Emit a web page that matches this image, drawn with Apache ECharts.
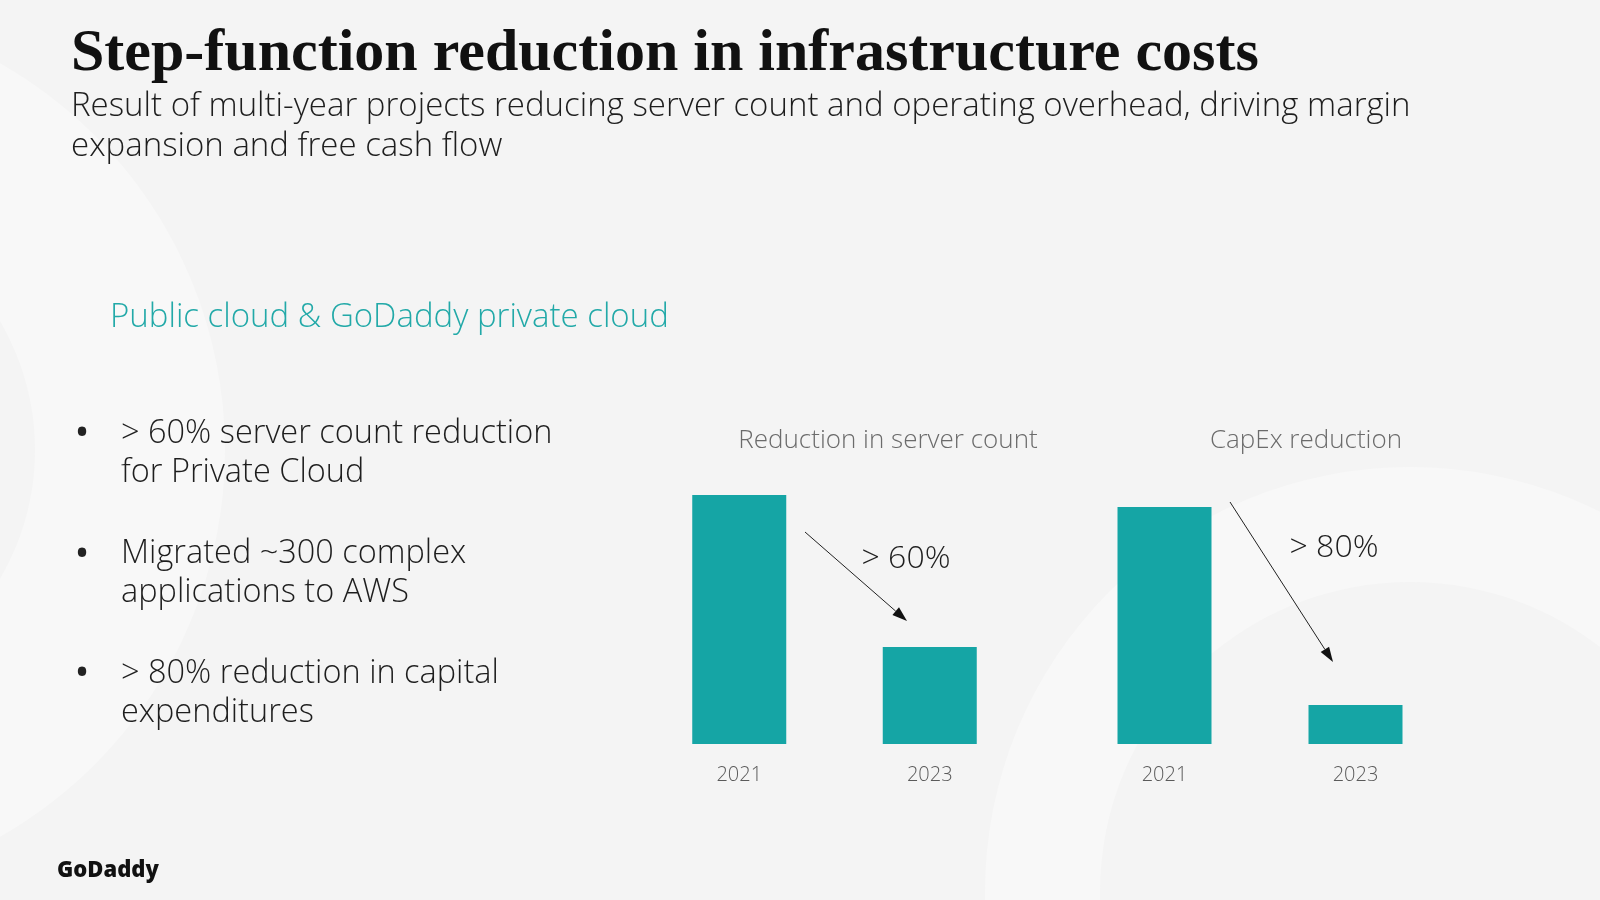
<!DOCTYPE html>
<html>
<head>
<meta charset="utf-8">
<script src="https://cdn.jsdelivr.net/npm/echarts@6/dist/echarts.min.js"></script>
<style>
html, body { margin: 0; padding: 0; background: #f4f4f4; }
#main { width: 1600px; height: 900px; }
</style>
</head>
<body>
<div id="main"></div>
<script>
// data (2021 bar of server count = 100)
const years = ['2021', '2023'];
const serverCount = [100, 39];
const capex = [95.2, 15.7];

const chartTitles = ['Reduction in server count', 'CapEx reduction'];
const changeLabels = ['> 60%', '> 80%'];

const bullets = [
    '> 60% server count reduction\nfor Private Cloud',
    'Migrated ~300 complex\napplications to AWS',
    '> 80% reduction in capital\nexpenditures'
];

const teal = '#15a5a5';
const bodyFont = '"Open Sans", Inter, sans-serif';

var chartDom = document.getElementById('main');
var myChart = echarts.init(chartDom);

// arrow = line + small triangle head
const arrow = (x1, y1, x2, y2) => {
    const ang = Math.atan2(y2 - y1, x2 - x1);
    const len = 15, half = 5;
    const bx = x2 - len * Math.cos(ang), by = y2 - len * Math.sin(ang);
    const px = -Math.sin(ang) * half, py = Math.cos(ang) * half;
    return [
        { type: 'line', shape: { x1: x1, y1: y1, x2: bx, y2: by }, style: { stroke: '#222', lineWidth: 1 } },
        { type: 'polygon', shape: { points: [[x2, y2], [bx + px, by + py], [bx - px, by - py]] }, style: { fill: '#111' } }
    ];
};

const bulletY = [414, 534.5, 654];
const bulletGraphics = [];
bullets.forEach((b, i) => {
    bulletGraphics.push({
        type: 'text', x: 82, y: bulletY[i] + 21,
        style: { text: '•', font: '40px ' + bodyFont, fill: '#222', align: 'center', verticalAlign: 'middle' }
    });
    bulletGraphics.push({
        type: 'text', x: 121, y: bulletY[i],
        style: { text: b, font: '300 32.5px ' + bodyFont, fill: '#1e1e1e', lineHeight: 39, verticalAlign: 'top' }
    });
});

const yearAxis = (gi) => ({
    type: 'category',
    gridIndex: gi,
    data: years,
    axisLine: { show: false },
    axisTick: { show: false },
    axisLabel: { color: '#5a5a5a', fontSize: 20, fontFamily: bodyFont, fontWeight: 300, margin: 21 }
});
const valueAxis = (gi) => ({
    type: 'value', gridIndex: gi, min: 0, max: 100, show: false
});

option = {
    backgroundColor: '#f4f4f4',
    animation: false,
    title: [
        {
            text: chartTitles[0], left: 883, top: 423, textAlign: 'center',
            textStyle: { color: '#6b6b6b', fontSize: 26, fontWeight: 300, fontFamily: bodyFont }
        },
        {
            text: chartTitles[1], left: 1301, top: 423, textAlign: 'center',
            textStyle: { color: '#6b6b6b', fontSize: 26, fontWeight: 300, fontFamily: bodyFont }
        }
    ],
    grid: [
        { left: 644, top: 495, width: 381, height: 249 },
        { left: 1069, top: 495, width: 382, height: 249 }
    ],
    xAxis: [yearAxis(0), yearAxis(1)],
    yAxis: [valueAxis(0), valueAxis(1)],
    series: [
        {
            name: chartTitles[0], type: 'bar', xAxisIndex: 0, yAxisIndex: 0,
            data: serverCount, barWidth: 94, itemStyle: { color: teal }, silent: true
        },
        {
            name: chartTitles[1], type: 'bar', xAxisIndex: 1, yAxisIndex: 1,
            data: capex, barWidth: 94, itemStyle: { color: teal }, silent: true
        }
    ],
    graphic: [
        // faint background rings
        { type: 'ring', z: -10, shape: { cx: -220, cy: 450, r: 445, r0: 255 }, style: { fill: '#f8f8f8' } },
        { type: 'ring', z: -10, shape: { cx: 1410, cy: 892, r: 425, r0: 310 }, style: { fill: '#f8f8f8' } },
        {
            type: 'text', x: 71, y: 54,
            style: {
                text: 'Step-function reduction in infrastructure costs',
                font: 'bold 60px "Liberation Serif", "DejaVu Serif", serif', fill: '#111', verticalAlign: 'middle'
            }
        },
        {
            type: 'text', x: 71, y: 87,
            style: {
                text: 'Result of multi-year projects reducing server count and operating overhead, driving margin\nexpansion and free cash flow',
                font: '300 33px ' + bodyFont, fill: '#1e1e1e', lineHeight: 40, verticalAlign: 'top'
            }
        },
        {
            type: 'text', x: 110, y: 318,
            style: { text: 'Public cloud & GoDaddy private cloud', font: '300 33px ' + bodyFont, fill: '#22a9a8', verticalAlign: 'middle' }
        },
        ...bulletGraphics,
        ...arrow(805, 532, 907, 621),
        ...arrow(1230, 502, 1333, 662),
        {
            type: 'text', x: 906, y: 559,
            style: { text: changeLabels[0], font: '300 32px ' + bodyFont, fill: '#1e1e1e', align: 'center', verticalAlign: 'middle' }
        },
        {
            type: 'text', x: 1334, y: 548,
            style: { text: changeLabels[1], font: '300 32px ' + bodyFont, fill: '#1e1e1e', align: 'center', verticalAlign: 'middle' }
        },
        {
            type: 'text', x: 57, y: 871,
            style: { text: 'GoDaddy', font: '800 22px ' + bodyFont, fill: '#111', verticalAlign: 'middle' }
        }
    ]
};

option && myChart.setOption(option);
</script>
</body>
</html>
